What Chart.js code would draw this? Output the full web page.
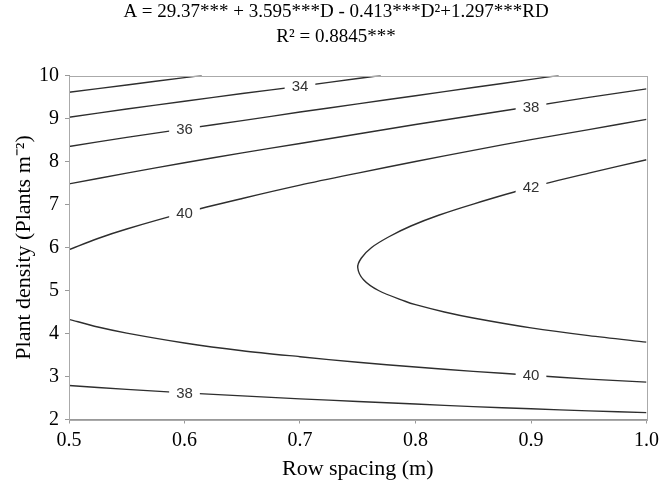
<!DOCTYPE html>
<html>
<head>
<meta charset="utf-8">
<script src="https://cdn.jsdelivr.net/npm/chart.js@4.4.1/dist/chart.umd.min.js"></script>
<style>
  body { margin: 0; background: #fff; }
</style>
</head>
<body>
<canvas id="myChart" width="664" height="482"></canvas>
<script>
// contour lines of the fitted surface, each point is [row spacing, plant density]
const c32 = [[0.5, 9.61], [0.55, 9.78], [0.6, 9.95], [0.615, 10]];
const c34 = [[0.5, 9.03], [0.55, 9.22], [0.6, 9.40], [0.65, 9.58], [0.7, 9.75], [0.75, 9.93], [0.77, 10]];
const c36 = [[0.5, 8.35], [0.55, 8.56], [0.6, 8.76], [0.65, 8.95], [0.7, 9.15], [0.75, 9.34], [0.8, 9.53], [0.85, 9.72], [0.9, 9.91], [0.924, 10]];
const c38top = [[0.5, 7.48], [0.55, 7.73], [0.6, 7.97], [0.65, 8.20], [0.7, 8.42], [0.75, 8.64], [0.8, 8.86], [0.85, 9.07], [0.9, 9.28], [0.95, 9.49], [1.0, 9.69]];
const c40top = [[0.5, 5.95], [0.525, 6.21], [0.55, 6.43], [0.6, 6.81], [0.65, 7.14], [0.7, 7.45], [0.75, 7.73], [0.8, 8.00], [0.85, 8.26], [0.9, 8.51], [0.95, 8.74], [1.0, 8.98]];
const c42 = [[1.0, 3.80], [0.95, 3.95], [0.9, 4.13], [0.85, 4.36], [0.825, 4.5], [0.8, 4.67], [0.791, 4.75], [0.768, 5.0], [0.755, 5.25], [0.750, 5.53], [0.753, 5.75], [0.762, 6.0], [0.777, 6.25], [0.796, 6.5], [0.82, 6.75], [0.85, 7.01], [0.9, 7.40], [0.95, 7.73], [1.0, 8.04]];
const c40low = [[0.5, 4.33], [0.525, 4.15], [0.55, 4.01], [0.6, 3.78], [0.65, 3.60], [0.7, 3.46], [0.75, 3.33], [0.8, 3.22], [0.85, 3.12], [0.9, 3.03], [0.95, 2.94], [1.0, 2.87]];
const c38low = [[0.5, 2.79], [0.55, 2.70], [0.6, 2.62], [0.65, 2.55], [0.7, 2.48], [0.75, 2.42], [0.8, 2.36], [0.85, 2.30], [0.9, 2.25], [0.95, 2.20], [1.0, 2.16]];

const contours = [c32, c34, c36, c38top, c40top, c42, c40low, c38low];
const levels = ['32', '34', '36', '38', '40', '42', '40', '38'];
// row spacing where each level is written on its line (null = no label);
// on the closed 42 line the last match (upper branch) is used
const labelAt = [null, 0.7, 0.6, 0.9, 0.6, 0.9, 0.9, 0.6];

const titleLines = ['A = 29.37*** + 3.595***D - 0.413***D²+1.297***RD', 'R² = 0.8845***'];

const serif = '"Liberation Serif", "Times New Roman", serif';

let datasets = [];
for (let i = 0; i < contours.length; ++i) {
  let pts = contours[i].map(p => ({x: p[0], y: p[1]}));
  let idx = -1;
  if (labelAt[i] !== null) {
    for (let k = pts.length - 1; k >= 0; --k) {
      if (pts[k].x === labelAt[i]) { idx = k; break; }
    }
  }
  datasets.push({
    label: levels[i],
    labelIndex: idx,
    data: pts,
    showLine: true,
    pointRadius: 0,
    borderColor: '#2e2e2e',
    borderWidth: 1.4,
    tension: 0.3,
    fill: false
  });
}

// white box + level number on top of each line
const contourLabels = {
  id: 'contourLabels',
  afterDatasetsDraw(chart) {
    const ctx = chart.ctx;
    ctx.save();
    ctx.font = '15px "Liberation Sans", Arial, sans-serif';
    ctx.textAlign = 'center';
    ctx.textBaseline = 'middle';
    chart.data.datasets.forEach((ds, i) => {
      if (ds.labelIndex < 0) return;
      const pt = chart.getDatasetMeta(i).data[ds.labelIndex];
      const w = ctx.measureText(ds.label).width + 14;
      ctx.fillStyle = '#fff';
      ctx.fillRect(pt.x - w / 2, pt.y - 8, w, 16);
      ctx.fillStyle = '#333';
      ctx.fillText(ds.label, pt.x, pt.y + 1);
    });
    ctx.restore();
  }
};

// light frame round the plot, and the two-line equation above it
const frame = {
  id: 'frame',
  afterDraw(chart) {
    const a = chart.chartArea;
    const ctx = chart.ctx;
    ctx.save();
    ctx.strokeStyle = '#aaa';
    ctx.lineWidth = 1;
    ctx.strokeRect(Math.round(a.left) + 0.5, Math.round(a.top) + 0.5, Math.round(a.right - a.left), Math.round(a.bottom - a.top));
    ctx.fillStyle = '#000';
    ctx.font = '19px ' + serif;
    ctx.textAlign = 'center';
    ctx.textBaseline = 'middle';
    ctx.fillText(titleLines[0], 336, 12);
    ctx.fillText(titleLines[1], 336, 37.5);
    ctx.restore();
  }
};

const config = {
  type: 'scatter',
  data: {datasets: datasets},
  options: {
    responsive: false,
    animation: false,
    layout: {padding: {left: 0, right: 13, top: 75.5, bottom: 0}},
    plugins: {
      legend: {display: false},
      tooltip: {enabled: false},
      title: {display: false}
    },
    scales: {
      x: {
        type: 'linear',
        min: 0.5,
        max: 1.0,
        afterFit: (scale) => { scale.height = 62.5; },
        ticks: {
          stepSize: 0.1,
          padding: 5,
          color: '#000',
          font: {family: serif, size: 20},
          callback: (v) => v.toFixed(1)
        },
        grid: {drawOnChartArea: false, drawTicks: true, tickLength: 4, color: '#999'},
        border: {color: '#999'},
        title: {
          display: true,
          text: 'Row spacing (m)',
          color: '#000',
          font: {family: serif, size: 22},
          padding: {top: 0, bottom: 0}
        }
      },
      y: {
        min: 2,
        max: 10,
        afterFit: (scale) => { scale.width = 69; },
        ticks: {
          stepSize: 1,
          padding: 6,
          color: '#000',
          font: {family: serif, size: 20}
        },
        grid: {drawOnChartArea: false, drawTicks: true, tickLength: 4, color: '#999'},
        border: {color: '#999'},
        title: {
          display: true,
          text: 'Plant density (Plants m⁻²)',
          color: '#000',
          font: {family: serif, size: 22},
          padding: {top: 11, bottom: 0}
        }
      }
    }
  },
  plugins: [contourLabels, frame]
};

window.myChart_ = new Chart(document.getElementById('myChart'), config);
</script>
</body>
</html>
